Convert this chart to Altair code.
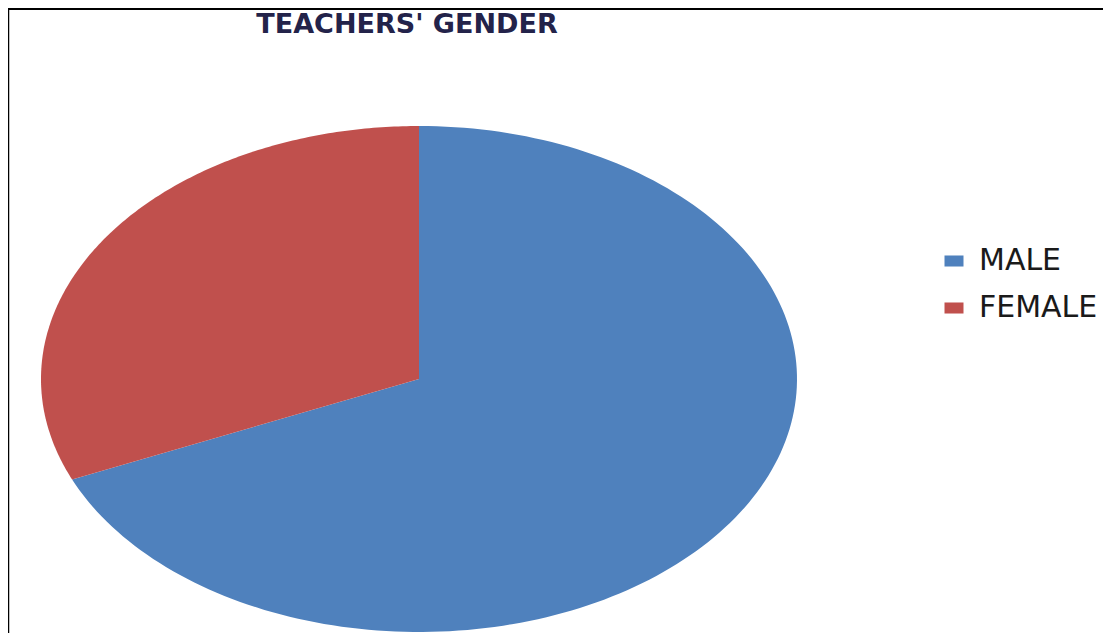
import altair as alt
import pandas as pd

categories = ["MALE", "FEMALE"]
values = [68.5, 31.5]
colors = ["#4F81BD", "#C0504D"]
title_text = "TEACHERS' GENDER"

N = 180  # samples along each slice's outer edge
df = pd.DataFrame({
    "category": categories,
    "value": values,
    "idx": list(range(len(categories))),
    "step": [list(range(-1, N + 1)) for _ in categories],
})

W, H = 1095, 625

pie = (
    alt.Chart(df)
    .transform_joinaggregate(total="sum(value)")
    .transform_window(cum="sum(value)", sort=[alt.SortField("idx")], frame=[None, 0])
    .transform_calculate(
        a0="2*PI*(datum.cum-datum.value)/datum.total",
        a1="2*PI*datum.cum/datum.total",
    )
    .transform_flatten(["step"])
    .transform_calculate(
        ang=f"datum.a0 + (datum.a1-datum.a0)*datum.step/{N}",
    )
    .transform_calculate(
        px="datum.step < 0 ? 0 : sin(datum.ang)",
        py="datum.step < 0 ? 0 : cos(datum.ang)",
    )
    .mark_line(strokeWidth=0, strokeOpacity=0, interpolate="linear")
    .encode(
        x=alt.X("px:Q", scale=alt.Scale(domain=[-1, 1], range=[33, 789]), axis=None),
        y=alt.Y("py:Q", scale=alt.Scale(domain=[-1, 1], range=[624, 118]), axis=None),
        order=alt.Order("step:Q"),
        fill=alt.Fill(
            "category:N",
            scale=alt.Scale(domain=categories, range=colors),
            legend=alt.Legend(
                title=None,
                orient="none",
                legendX=931,
                legendY=238,
                symbolType="M-1,-0.58H1V0.58H-1Z",
                symbolSize=361,
                symbolStrokeWidth=0,
                labelFont="DejaVu Sans",
                labelFontSize=30,
                labelColor="#1a1a1a",
                labelOffset=10,
                rowPadding=17,
            ),
        ),
    )
)

title = alt.Chart(pd.DataFrame({"t": [title_text]})).mark_text(
    font="DejaVu Sans", fontWeight="bold", fontSize=27, color="#23234a",
    align="center", baseline="alphabetic",
).encode(x=alt.value(399), y=alt.value(25), text="t:N")

top_rule = alt.Chart(pd.DataFrame({"k": [0]})).mark_rule(color="black", strokeWidth=2).encode(
    x=alt.value(0), x2=alt.value(W), y=alt.value(1)
)
left_rule = alt.Chart(pd.DataFrame({"k": [0]})).mark_rule(color="black", strokeWidth=1.5).encode(
    x=alt.value(0.5), y=alt.value(0), y2=alt.value(H)
)

chart = (
    alt.layer(pie, title, top_rule, left_rule)
    .properties(width=W, height=H, autosize=alt.AutoSizeParams(type="none"), padding=0)
    .configure_view(stroke=None)
    .configure(background="white")
)

chart.save("out.html", embed_options={"renderer": "svg", "actions": False})
